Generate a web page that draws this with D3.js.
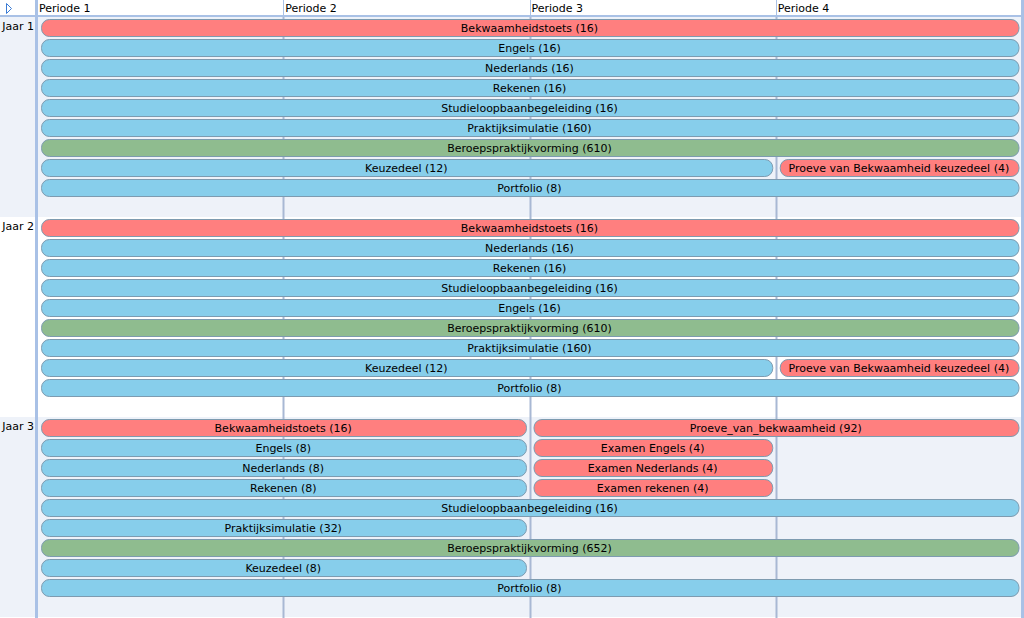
<!DOCTYPE html>
<html><head><meta charset="utf-8">
<script src="https://cdn.jsdelivr.net/npm/d3@7"></script>
<style>
html,body{margin:0;padding:0;background:#fff;}
svg{display:block;font-family:"DejaVu Sans",Verdana,sans-serif;}
</style></head>
<body><svg id="c" width="1024" height="618"></svg>
<script>
const periodLabels = ["Periode 1","Periode 2","Periode 3","Periode 4"];
const yearLabels = ["Jaar 1","Jaar 2","Jaar 3"];
// items: year index, row within year, name, start period, end period (exclusive), kind
const itemYear  = [0,0,0,0,0,0,0,0,0,0, 1,1,1,1,1,1,1,1,1,1, 2,2,2,2,2,2,2,2,2,2,2,2,2];
const itemRow   = [0,1,2,3,4,5,6,7,7,8, 0,1,2,3,4,5,6,7,7,8, 0,0,1,1,2,2,3,3,4,5,6,7,8];
const itemName  = [
 "Bekwaamheidstoets (16)","Engels (16)","Nederlands (16)","Rekenen (16)","Studieloopbaanbegeleiding (16)",
 "Praktijksimulatie (160)","Beroepspraktijkvorming (610)","Keuzedeel (12)","Proeve van Bekwaamheid keuzedeel (4)","Portfolio (8)",
 "Bekwaamheidstoets (16)","Nederlands (16)","Rekenen (16)","Studieloopbaanbegeleiding (16)","Engels (16)",
 "Beroepspraktijkvorming (610)","Praktijksimulatie (160)","Keuzedeel (12)","Proeve van Bekwaamheid keuzedeel (4)","Portfolio (8)",
 "Bekwaamheidstoets (16)","Proeve_van_bekwaamheid (92)","Engels (8)","Examen Engels (4)","Nederlands (8)","Examen Nederlands (4)",
 "Rekenen (8)","Examen rekenen (4)","Studieloopbaanbegeleiding (16)","Praktijksimulatie (32)","Beroepspraktijkvorming (652)","Keuzedeel (8)","Portfolio (8)"];
const itemStart = [1,1,1,1,1,1,1,1,4,1, 1,1,1,1,1,1,1,1,4,1, 1,3,1,3,1,3,1,3,1,1,1,1,1];
const itemEnd   = [5,5,5,5,5,5,5,4,5,5, 5,5,5,5,5,5,5,4,5,5, 3,5,3,4,3,4,3,4,5,3,5,3,5];
const itemKind  = ["exam","course","course","course","course","course","practice","course","exam","course",
                   "exam","course","course","course","course","practice","course","course","exam","course",
                   "exam","exam","course","exam","course","exam","course","exam","course","course","practice","course","course"];

const rowsPerYear = 10;
const W = 1024, H = 618, headerH = 17, leftW = 37, rightX = 1022;
const svg = d3.select("#c");

const x = d3.scaleLinear().domain([1,5]).range([leftW, rightX]);
const y = d3.scaleLinear().domain([0, yearLabels.length*rowsPerYear]).range([headerH, headerH + 20*yearLabels.length*rowsPerYear]);
const color = d3.scaleOrdinal().domain(["exam","course","practice"]).range(["#ff7f7f","#87ceeb","#8fbc8f"]);

// year bands
svg.selectAll("rect.band").data(yearLabels).join("rect")
  .attr("x",0).attr("width",W)
  .attr("y",(d,i)=>y(i*rowsPerYear)).attr("height",(d,i)=>y((i+1)*rowsPerYear)-y(i*rowsPerYear))
  .attr("fill",(d,i)=> i%2===1 ? "#ffffff" : "#eef2f9");

// header
svg.append("rect").attr("x",0).attr("y",0).attr("width",W).attr("height",headerH).attr("fill","#fff");

// vertical grid lines in body
const bounds = [2,3,4];
svg.selectAll("line.grid").data(bounds).join("line")
  .attr("x1",d=>Math.round(x(d))+0.5).attr("x2",d=>Math.round(x(d))+0.5)
  .attr("y1",headerH).attr("y2",H)
  .attr("stroke","#a8b8d4").attr("stroke-width",2);

// header separators
svg.selectAll("line.hsep").data(bounds).join("line")
  .attr("x1",d=>Math.round(x(d))+0.5).attr("x2",d=>Math.round(x(d))+0.5)
  .attr("y1",0).attr("y2",headerH)
  .attr("stroke","#a9c1e6").attr("stroke-width",1);

// header bottom border
svg.append("rect").attr("x",0).attr("y",headerH-2).attr("width",W).attr("height",2).attr("fill","#a9c1e6");
// left divider & right border
svg.append("rect").attr("x",leftW-2).attr("y",0).attr("width",3).attr("height",H).attr("fill","#a9c1e6");
svg.append("rect").attr("x",rightX-1).attr("y",0).attr("width",3).attr("height",H).attr("fill","#a9c1e6");

// header labels
svg.selectAll("text.per").data(periodLabels).join("text")
  .attr("x",(d,i)=>x(i+1)+2).attr("y",12)
  .attr("font-size","11px").attr("fill","#000").text(d=>d);

// triangle icon
svg.append("path").attr("d","M6.5,3.5 L11.5,8.5 L6.5,13.5 Z")
  .attr("fill","none").attr("stroke","#3a7bd5").attr("stroke-width",1);

// year labels
svg.selectAll("text.yr").data(yearLabels).join("text")
  .attr("x",34).attr("y",(d,i)=>y(i*rowsPerYear)+13)
  .attr("text-anchor","end").attr("font-size","11px").attr("fill","#000").text(d=>d);

// bars
const idx = d3.range(itemName.length);
const g = svg.append("g");
g.selectAll("rect.bar").data(idx).join("rect")
  .attr("x",i=>x(itemStart[i])+4.5)
  .attr("width",i=>x(itemEnd[i])-x(itemStart[i])-7.5)
  .attr("y",i=>y(itemYear[i]*rowsPerYear+itemRow[i])+2.5)
  .attr("height",17)
  .attr("rx",8).attr("ry",8)
  .attr("fill",i=>color(itemKind[i]))
  .attr("stroke","#7d9bb0").attr("stroke-width",1);

g.selectAll("text.lbl").data(idx).join("text")
  .attr("x",i=>(x(itemStart[i])+x(itemEnd[i]))/2)
  .attr("y",i=>y(itemYear[i]*rowsPerYear+itemRow[i])+15)
  .attr("text-anchor","middle").attr("font-size","11px").attr("fill","#000")
  .text(i=>itemName[i]);
</script></body></html>
